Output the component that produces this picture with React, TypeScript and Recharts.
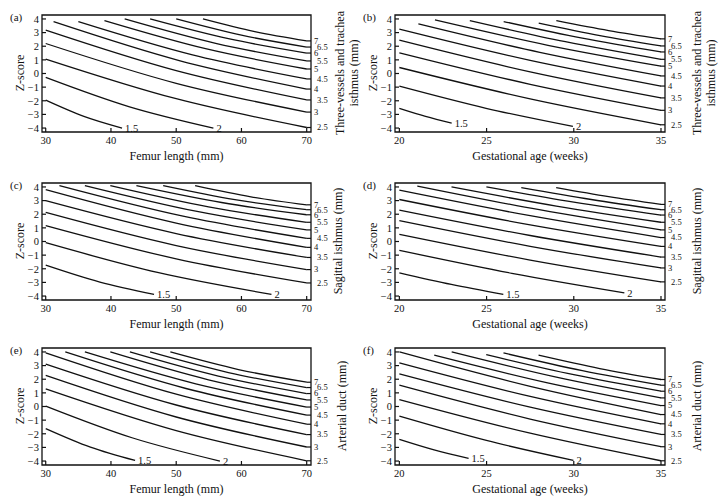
import React from 'react';
import { LineChart, Line, XAxis, YAxis, ReferenceArea, ReferenceDot } from 'recharts';

const FONT = '"Liberation Serif", "DejaVu Serif", serif';

const LEVELS = ['1.5', '2', '2.5', '3', '3.5', '4', '4.5', '5', '5.5', '6', '6.5', '7'];
const Z_TICKS = [-4, -3, -2, -1, 0, 1, 2, 3, 4];
const FEMUR_TICKS = [30, 40, 50, 60, 70];
const GA_TICKS = [20, 25, 30, 35];

// each curve: [x, z-score] points for one vessel size (LEVELS order)
const curvesA = [
  [[30, -1.95], [35.85, -3.14], [41.7, -4.0]],
  [[30, -0.28], [42.85, -2.44], [55.7, -4.0]],
  [[30, 1.06], [50, -1.85], [70, -3.96]],
  [[30, 2.2], [50, -0.72], [70, -2.83]],
  [[30, 3.18], [50, 0.21], [70, -1.94]],
  [[31.2, 3.8], [50.6, 0.93], [70, -1.14]],
  [[35, 3.8], [52.5, 1.36], [70, -0.4]],
  [[39, 3.88], [54.5, 1.82], [70, 0.33]],
  [[42.1, 4.0], [56.05, 2.21], [70, 0.92]],
  [[46, 4.0], [58, 2.55], [70, 1.5]],
  [[50, 4.0], [60, 2.81], [70, 1.94]],
  [[54.1, 4.0], [62.05, 3.07], [70, 2.39]],
];

const curvesB = [
  [[20, -2.56], [21.5, -3.15], [23.0, -3.64]],
  [[20, -0.93], [24.97, -2.55], [29.95, -3.88]],
  [[20, 0.44], [27.5, -1.86], [35, -3.76]],
  [[20, 1.52], [27.5, -0.79], [35, -2.7]],
  [[20, 2.44], [27.5, 0.12], [35, -1.79]],
  [[20, 3.25], [27.5, 0.96], [35, -0.92]],
  [[21.09, 3.64], [28.05, 1.55], [35, -0.18]],
  [[22.04, 3.93], [28.52, 2.07], [35, 0.54]],
  [[24.04, 3.88], [29.52, 2.33], [35, 1.04]],
  [[25.98, 3.81], [30.49, 2.59], [35, 1.58]],
  [[27.99, 3.69], [31.5, 2.77], [35, 2.02]],
  [[29.0, 3.88], [32, 3.15], [35, 2.54]],
];

const curvesC = [
  [[30, -1.74], [38.3, -2.98], [46.6, -3.88]],
  [[30, -0.09], [47.3, -2.29], [64.6, -3.88]],
  [[30, 1.17], [50, -1.27], [70, -3.04]],
  [[30, 2.13], [50, -0.3], [70, -2.06]],
  [[30, 2.99], [50, 0.58], [70, -1.17]],
  [[30, 3.8], [50, 1.35], [70, -0.43]],
  [[32.1, 4.1], [51.05, 1.86], [70, 0.23]],
  [[36.0, 4.1], [53, 2.22], [70, 0.85]],
  [[39.9, 4.1], [54.95, 2.54], [70, 1.41]],
  [[43.9, 4.1], [56.95, 2.86], [70, 1.96]],
  [[48.0, 4.1], [59, 3.07], [70, 2.33]],
  [[52.9, 4.1], [61.45, 3.28], [70, 2.69]],
];

const curvesD = [
  [[20, -2.3], [22.98, -3.15], [25.96, -3.88]],
  [[20, -0.65], [26.45, -2.33], [32.9, -3.76]],
  [[20, 0.53], [27.5, -1.36], [35, -2.96]],
  [[20, 1.53], [27.5, -0.35], [35, -1.94]],
  [[20, 2.3], [27.5, 0.44], [35, -1.14]],
  [[20, 3.08], [27.5, 1.22], [35, -0.36]],
  [[20, 3.76], [27.5, 1.89], [35, 0.29]],
  [[21.03, 4.07], [28.02, 2.33], [35, 0.85]],
  [[22.99, 4.0], [29.0, 2.6], [35, 1.41]],
  [[24.99, 4.0], [30.0, 2.89], [35, 1.94]],
  [[26.99, 3.95], [31.0, 3.08], [35, 2.33]],
  [[28.99, 3.95], [32.0, 3.29], [35, 2.72]],
];

const curvesE = [
  [[30, -1.62], [36.85, -2.98], [43.7, -3.96]],
  [[30, 0.03], [43.35, -2.31], [56.7, -4.0]],
  [[30, 1.29], [50, -1.77], [70, -3.98]],
  [[30, 2.28], [50, -0.77], [70, -2.97]],
  [[30, 3.11], [50, 0.11], [70, -2.06]],
  [[30, 3.93], [50, 0.9], [70, -1.3]],
  [[33.0, 4.0], [51.5, 1.32], [70, -0.63]],
  [[36.0, 4.0], [53, 1.66], [70, -0.04]],
  [[39.9, 4.0], [54.95, 1.96], [70, 0.48]],
  [[42.9, 4.0], [56.45, 2.23], [70, 0.95]],
  [[46.0, 4.0], [58, 2.49], [70, 1.39]],
  [[49.1, 4.0], [59.55, 2.71], [70, 1.78]],
];

const curvesF = [
  [[20, -2.41], [21.99, -3.18], [23.97, -3.8]],
  [[20, -0.71], [24.99, -2.49], [29.98, -3.95]],
  [[20, 0.51], [27.5, -1.96], [35, -3.98]],
  [[20, 1.56], [27.5, -0.92], [35, -2.95]],
  [[20, 2.39], [27.5, -0.05], [35, -2.05]],
  [[20, 3.2], [27.5, 0.74], [35, -1.27]],
  [[20, 4.0], [27.5, 1.48], [35, -0.59]],
  [[22.0, 3.76], [28.5, 1.73], [35, 0.07]],
  [[23.0, 4.0], [29.0, 2.15], [35, 0.63]],
  [[24.98, 3.8], [30.0, 2.33], [35, 1.12]],
  [[25.97, 3.93], [30.49, 2.63], [35, 1.56]],
  [[27.98, 3.76], [31.49, 2.78], [35, 1.98]],
];

const FEMUR_DOMAIN: [number, number] = [29.43, 70.66];
const GA_DOMAIN: [number, number] = [19.75, 35.23];
const Z_DOMAIN: [number, number] = [-4.29, 4.29];

interface PanelProps {
  letter: string;
  L: number;
  T: number;
  plotW: number;
  curves: number[][][];
  xDomain: [number, number];
  xTicks: number[];
  xTitle: string;
  rTitle: string[];
  rOffset: number;
}

const fmtZ = (v: number) => (v < 0 ? '\u2212' + Math.abs(v) : String(v));

function Panel(p: PanelProps) {
  const AXW = 30;
  const MT = 4;
  const XH = 20;
  const plotH = 117;
  const W = AXW * 2 + p.plotW;
  const H = MT + plotH + XH;
  const xMax = p.xTicks[p.xTicks.length - 1];
  const rightEnds: { z: number; label: string }[] = [];
  const bottomEnds: { x: number; z: number; label: string }[] = [];
  p.curves.forEach((c, i) => {
    const last = c[c.length - 1];
    if (last[0] >= xMax) rightEnds.push({ z: last[1], label: LEVELS[i] });
    else bottomEnds.push({ x: last[0], z: last[1], label: LEVELS[i] });
  });
  const rTicks = rightEnds.map((e) => e.z);
  const findLabel = (v: number) => {
    const e = rightEnds.find((r) => Math.abs(r.z - v) < 1e-9);
    return e ? e.label : '';
  };
  const RightTick = (props: any) => {
    const lab = findLabel(props.payload.value);
    const half = lab.indexOf('.') >= 0;
    return (
      <text
        x={props.x + (half ? 3 : 0)}
        y={props.y}
        dy="0.34em"
        textAnchor="start"
        fill="#111"
        fontSize={8.5}
        fontFamily={FONT}
      >
        {lab}
      </text>
    );
  };
  const B = p.T + plotH;
  const R = p.L + p.plotW;
  const txt: React.CSSProperties = {
    position: 'absolute',
    fontFamily: FONT,
    color: '#111',
    whiteSpace: 'nowrap',
    lineHeight: 1,
  };
  return (
    <>
      <div style={{ position: 'absolute', left: p.L - AXW, top: p.T - MT }}>
        <LineChart width={W} height={H} margin={{ top: MT, right: 0, bottom: 0, left: 0 }}>
          <XAxis
            xAxisId="b"
            dataKey="x"
            type="number"
            domain={p.xDomain}
            ticks={p.xTicks}
            allowDataOverflow
            interval={0}
            height={XH}
            axisLine={false}
            tickSize={-4}
            tickMargin={9}
            tickLine={{ stroke: '#111', strokeWidth: 1.2 }}
            tick={{ fill: '#111', fontSize: 10.5, fontFamily: FONT }}
          />
          <YAxis
            yAxisId="l"
            type="number"
            domain={Z_DOMAIN}
            ticks={Z_TICKS}
            allowDataOverflow
            interval={0}
            width={AXW}
            axisLine={false}
            tickSize={-4}
            tickMargin={7}
            tickFormatter={fmtZ}
            tickLine={{ stroke: '#111', strokeWidth: 1.2 }}
            tick={{ fill: '#111', fontSize: 10.5, fontFamily: FONT }}
          />
          <YAxis
            yAxisId="r"
            orientation="right"
            type="number"
            domain={Z_DOMAIN}
            ticks={rTicks}
            allowDataOverflow
            interval={0}
            width={AXW}
            axisLine={false}
            tickSize={-4.5}
            tickMargin={7.5}
            tickLine={{ stroke: '#111', strokeWidth: 1.2 }}
            tick={RightTick}
          />
          <ReferenceArea
            xAxisId="b"
            yAxisId="l"
            x1={p.xDomain[0]}
            x2={p.xDomain[1]}
            y1={Z_DOMAIN[0]}
            y2={Z_DOMAIN[1]}
            fill="#fff"
            fillOpacity={0}
            stroke="#111"
            strokeWidth={1.3}
            ifOverflow="visible"
          />
          {p.curves.map((c, i) => (
            <Line
              key={i}
              xAxisId="b"
              yAxisId="l"
              data={c.map(([x, z]) => ({ x, z }))}
              dataKey="z"
              type="monotone"
              stroke="#111"
              strokeWidth={1.3}
              dot={false}
              activeDot={false}
              isAnimationActive={false}
            />
          ))}
          {bottomEnds.map((e, i) => (
            <ReferenceDot
              key={'d' + i}
              xAxisId="b"
              yAxisId="l"
              x={e.x}
              y={e.z}
              r={0}
              fill="none"
              stroke="none"
              ifOverflow="visible"
              label={{
                value: e.label,
                position: 'right',
                offset: 3,
                fill: '#111',
                fontSize: 10.5,
                fontFamily: FONT,
              }}
            />
          ))}
        </LineChart>
      </div>
      <div style={{ ...txt, left: p.L - 32, top: p.T - 3, fontSize: 11 }}>{p.letter}</div>
      <div
        style={{
          ...txt,
          left: p.L - 22,
          top: p.T + 58,
          fontSize: 12,
          transform: 'translate(-50%, -50%) rotate(-90deg)',
        }}
      >
        Z-score
      </div>
      <div
        style={{
          ...txt,
          left: p.L + p.plotW / 2,
          top: B + 24,
          fontSize: 12,
          transform: 'translate(-50%, -50%)',
        }}
      >
        {p.xTitle}
      </div>
      <div
        style={{
          ...txt,
          left: R + p.rOffset,
          top: p.T + 58,
          fontSize: 12,
          lineHeight: '14px',
          textAlign: 'center',
          transform: 'translate(-50%, -50%) rotate(-90deg)',
        }}
      >
        {p.rTitle.map((s, i) => (
          <div key={i}>{s}</div>
        ))}
      </div>
    </>
  );
}

const TVT = ['Three-vessels and trachea', 'isthmus (mm)'];
const SAG = ['Sagittal isthmus (mm)'];
const DUCT = ['Arterial duct (mm)'];

export default function App() {
  return (
    <div
      style={{
        position: 'absolute',
        left: 0,
        top: 0,
        width: 726,
        height: 503,
        background: '#fff',
        overflow: 'hidden',
      }}
    >
      <Panel letter="(a)" L={42} T={15} plotW={269} curves={curvesA} xDomain={FEMUR_DOMAIN} xTicks={FEMUR_TICKS} xTitle="Femur length (mm)" rTitle={TVT} rOffset={36} />
      <Panel letter="(b)" L={395} T={15} plotW={270} curves={curvesB} xDomain={GA_DOMAIN} xTicks={GA_TICKS} xTitle="Gestational age (weeks)" rTitle={TVT} rOffset={39} />
      <Panel letter="(c)" L={42} T={183} plotW={269} curves={curvesC} xDomain={FEMUR_DOMAIN} xTicks={FEMUR_TICKS} xTitle="Femur length (mm)" rTitle={SAG} rOffset={27} />
      <Panel letter="(d)" L={395} T={183} plotW={270} curves={curvesD} xDomain={GA_DOMAIN} xTicks={GA_TICKS} xTitle="Gestational age (weeks)" rTitle={SAG} rOffset={32} />
      <Panel letter="(e)" L={42} T={348} plotW={269} curves={curvesE} xDomain={FEMUR_DOMAIN} xTicks={FEMUR_TICKS} xTitle="Femur length (mm)" rTitle={DUCT} rOffset={31} />
      <Panel letter="(f)" L={395} T={348} plotW={270} curves={curvesF} xDomain={GA_DOMAIN} xTicks={GA_TICKS} xTitle="Gestational age (weeks)" rTitle={DUCT} rOffset={32} />
    </div>
  );
}
